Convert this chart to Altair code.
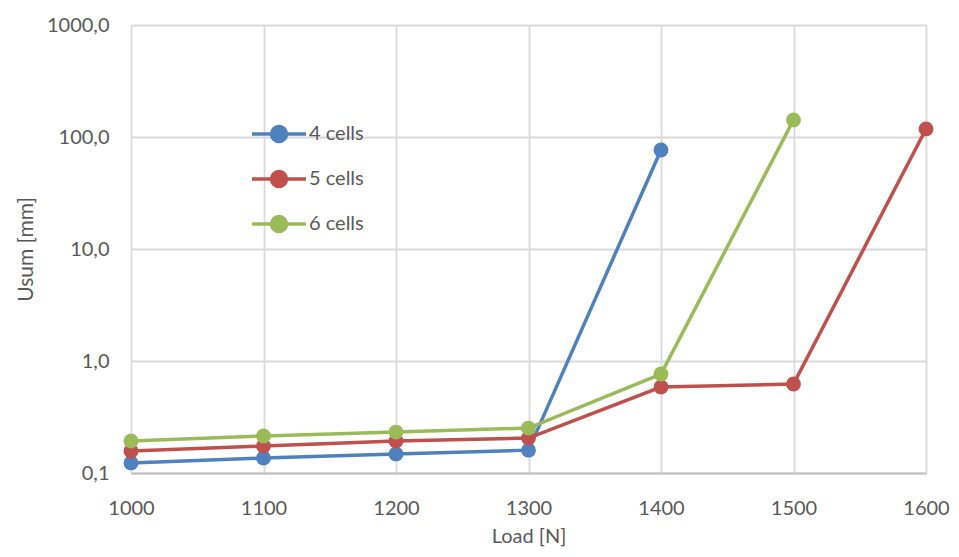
import altair as alt
import pandas as pd

loads = [1000, 1100, 1200, 1300, 1400, 1500, 1600]
cells4 = [0.123, 0.136, 0.148, 0.160, 76.6]
cells5 = [0.157, 0.174, 0.193, 0.205, 0.586, 0.623, 118.0]
cells6 = [0.193, 0.214, 0.232, 0.252, 0.765, 142.0]
series_names = ["4 cells", "5 cells", "6 cells"]
series_colors = ["#4F81BD", "#C0504D", "#9BBB59"]
y_ticks = [0.1, 1, 10, 100, 1000]

rows = []
for name, vals in zip(series_names, [cells4, cells5, cells6]):
    for i, v in enumerate(vals):
        rows.append({"Load": loads[i], "U": v, "Series": name, "order": i})
df = pd.DataFrame(rows)

FONT = "Lato"
GRAY = "#595959"

sym_path = "M-1.8,0L-0.5,0M0.5,0L1.8,0M-0.5,0A0.5,0.5 0 1,0 0.5,0A0.5,0.5 0 1,0 -0.5,0Z"

color = alt.Color(
    "Series:N",
    scale=alt.Scale(domain=series_names, range=series_colors),
    legend=alt.Legend(
        title=None,
        orient="none",
        legendX=131,
        legendY=92,
        symbolType=sym_path,
        symbolSize=900,
        symbolStrokeWidth=3.5,
        labelFont=FONT,
        labelFontSize=20,
        labelColor=GRAY,
        rowPadding=13,
        labelOffset=13,
    ),
)

chart = alt.Chart(df).mark_line(
    strokeWidth=3.5,
    point=alt.OverlayMarkDef(filled=True, size=220, opacity=1),
).encode(
    x=alt.X(
        "Load:Q",
        scale=alt.Scale(domain=[1000, 1600], nice=False, zero=False),
        axis=alt.Axis(
            title="Load [N]",
            values=loads,
            format="d",
            labelFlush=False,
            labelFont=FONT, labelFontSize=20, labelColor=GRAY,
            titleFont=FONT, titleFontSize=20, titleColor=GRAY, titleFontWeight="normal",
            labelPadding=25, titlePadding=8,
            ticks=False, domainColor="#BFBFBF", domainWidth=2,
            gridColor="#D9D9D9", gridWidth=1.8,
        ),
    ),
    y=alt.Y(
        "U:Q",
        scale=alt.Scale(type="log", domain=[0.1, 1000], nice=False),
        axis=alt.Axis(
            title="Usum [mm]",
            values=y_ticks,
            labelExpr="replace(format(datum.value, '.1f'), '.', ',')",
            labelFont=FONT, labelFontSize=20, labelColor=GRAY,
            titleFont=FONT, titleFontSize=21, titleColor=GRAY, titleFontWeight="normal",
            labelPadding=22, titlePadding=10,
            ticks=False, domain=False,
            gridColor="#D9D9D9", gridWidth=1.8,
        ),
    ),
    color=color,
    order="order:Q",
).properties(
    width=795,
    height=448,
    autosize=alt.AutoSizeParams(type="none"),
    padding={"left": 123, "top": 17, "right": 25, "bottom": 76},
).configure_view(stroke=None)

chart.save("out.html", embed_options={"renderer": "svg", "actions": False})
